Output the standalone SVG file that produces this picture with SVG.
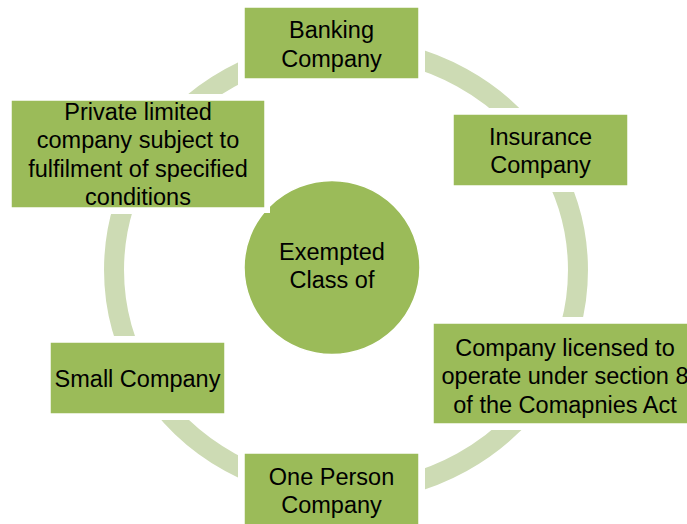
<svg xmlns="http://www.w3.org/2000/svg" width="687" height="524" viewBox="0 0 687 524">
  <style>
    .ring { fill: none; stroke: #cddbb4; stroke-width: 20; }
    .box { fill: #9bbb59; stroke: #ffffff; stroke-width: 1.5; }
    .halo { fill: #ffffff; }
    .hub { fill: #9bbb59; stroke: #ffffff; stroke-width: 1.5; }
    .lbl { font-family: "Liberation Sans", Arial, sans-serif; font-size: 23.5px; fill: #000000; text-anchor: middle; }
  </style>
  <defs>
    <mask id="gaps" maskUnits="userSpaceOnUse" x="0" y="0" width="687" height="524">
      <rect x="0" y="0" width="687" height="524" fill="#fff"/>
      <rect x="238" y="1" width="187" height="84" fill="#000"/>
      <rect x="447" y="108" width="187" height="84" fill="#000"/>
      <rect x="427" y="317" width="276" height="113" fill="#000"/>
      <rect x="238" y="447" width="187" height="89" fill="#000"/>
      <rect x="44" y="336" width="187" height="84" fill="#000"/>
      <rect x="5" y="94" width="266" height="120" fill="#000"/>
    </mask>
  </defs>
  <rect width="687" height="524" fill="#ffffff"/>

  <g id="connectors" mask="url(#gaps)">
    <path class="ring" d="M346,48 A232,222 0 0 1 546.9,159"/>
    <path class="ring" d="M546.9,159 A232,222 0 0 1 546.9,381"/>
    <path class="ring" d="M546.9,381 A232,222 0 0 1 346,492"/>
    <path class="ring" d="M346,492 A232,222 0 0 1 145.1,381"/>
    <path class="ring" d="M145.1,381 A232,222 0 0 1 145.1,159"/>
    <path class="ring" d="M145.1,159 A232,222 0 0 1 346,48"/>
  </g>

  <g id="hub">
    <ellipse class="hub" cx="332" cy="267.5" rx="88" ry="87"/>
    <text class="lbl" x="332" y="259.5">Exempted</text>
    <text class="lbl" x="332" y="288">Class of</text>
  </g>

  <g id="banking">
    <rect class="box" x="244" y="7" width="175" height="72"/>
    <text class="lbl" x="331.5" y="38">Banking</text>
    <text class="lbl" x="331.5" y="66.5">Company</text>
  </g>

  <g id="insurance">
    <rect class="box" x="453" y="114" width="175" height="72"/>
    <text class="lbl" x="540.5" y="144.5">Insurance</text>
    <text class="lbl" x="540.5" y="173">Company</text>
  </g>

  <g id="licensed">
    <rect class="box" x="433" y="323" width="264" height="101"/>
    <text class="lbl" x="565" y="355.5">Company licensed to</text>
    <text class="lbl" x="565" y="384">operate under section 8</text>
    <text class="lbl" x="565" y="412.5">of the Comapnies Act</text>
  </g>

  <g id="one-person">
    <rect class="box" x="244" y="453" width="175" height="76"/>
    <text class="lbl" x="331.5" y="484.5">One Person</text>
    <text class="lbl" x="331.5" y="513">Company</text>
  </g>

  <g id="small">
    <rect class="box" x="50" y="342" width="175" height="72"/>
    <text class="lbl" x="137.5" y="386.5">Small Company</text>
  </g>

  <g id="private">
    <rect class="halo" x="6" y="95" width="264" height="118"/>
    <rect class="box" x="11" y="100" width="254" height="108"/>
    <text class="lbl" x="138" y="119.5">Private limited</text>
    <text class="lbl" x="138" y="148">company subject to</text>
    <text class="lbl" x="138" y="176.5">fulfilment of specified</text>
    <text class="lbl" x="138" y="205">conditions</text>
  </g>
</svg>
